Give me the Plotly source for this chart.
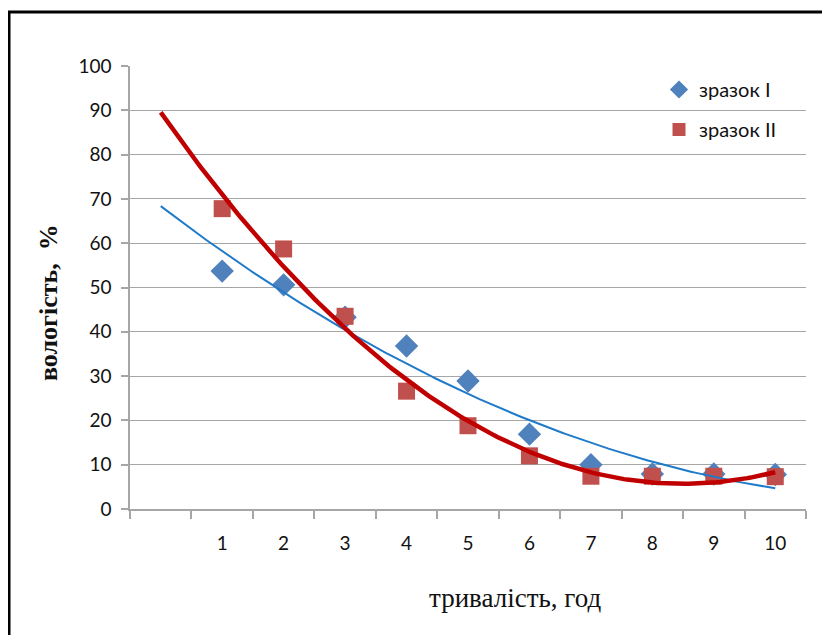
import numpy as np
import plotly.graph_objects as go

hours = [1, 2, 3, 4, 5, 6, 7, 8, 9, 10]
tick_labels = ["1", "2", "3", "4", "5", "6", "7", "8", "9", "10"]
sample1 = [53.7, 50.6, 43.3, 36.8, 28.9, 16.9, 10.0, 7.9, 7.9, 7.8]
sample2 = [67.8, 58.7, 43.5, 26.6, 18.8, 12.0, 7.4, 7.4, 7.4, 7.3]
name1 = "зразок I"
name2 = "зразок II"
x_title = "тривалість, год"
y_title = "<b>вологість,  %</b>"

# quadratic trendlines fitted to the data (as Excel polynomial trendline)
xt = np.linspace(0, 10, 200)
c1 = np.polyfit(hours, sample1, 2)
c2 = np.polyfit(hours, sample2, 2)
t1 = np.polyval(c1, xt)
t2 = np.polyval(c2, xt)

fig = go.Figure()
fig.add_trace(go.Scatter(x=hours, y=sample1, mode="markers", showlegend=False,
                         marker=dict(symbol="diamond", size=18, color="#4F81BD")))
fig.add_trace(go.Scatter(x=hours, y=sample2, mode="markers", showlegend=False,
                         marker=dict(symbol="square", size=17, color="#C0504D")))
fig.add_trace(go.Scatter(x=xt, y=t1, mode="lines", line=dict(color="#1F7BC9", width=2),
                         showlegend=False, hoverinfo="skip"))
fig.add_trace(go.Scatter(x=xt, y=t2, mode="lines", line=dict(color="#C00000", width=4.5),
                         showlegend=False, hoverinfo="skip"))
# legend entries (smaller symbols, as in the reference legend)
fig.add_trace(go.Scatter(x=[None], y=[None], mode="markers", name=name1, legendgroup="a", legendrank=1,
                         marker=dict(symbol="diamond", size=14, color="#4F81BD")))
fig.add_trace(go.Scatter(x=[None], y=[None], mode="markers", name=name2, legendgroup="b", legendrank=2,
                         marker=dict(symbol="square", size=13, color="#C0504D")))

L, T, R, B = 122, 58, 32, 134
PW, PH = 830 - L - R, 635 - T - B

fig.update_layout(
    width=830, height=635,
    margin=dict(l=L, r=R, t=T, b=B),
    paper_bgcolor="white", plot_bgcolor="white",
    font=dict(family="Lato", size=19, color="#111"),
    legend=dict(x=(659 - 130) / PW, y=1 - (70 - 66) / PH, xanchor="left", yanchor="top",
                traceorder="grouped", tracegroupgap=11, itemwidth=30,
                font=dict(family="Lato", size=20), bgcolor="rgba(0,0,0,0)"),
    xaxis=dict(range=[-0.5, 10.5], tickmode="array", tickvals=hours, ticktext=tick_labels,
               ticks="", showgrid=False, zeroline=False, showline=True, linecolor="#A6A6A6",
               linewidth=1.5, ticklabelstandoff=16, automargin=False,
               minor=dict(tick0=-0.5, dtick=1, ticks="outside", ticklen=8, tickcolor="#A6A6A6",
                          tickwidth=1.5, showgrid=False)),
    yaxis=dict(range=[0, 100], dtick=10, ticks="outside", ticklen=7, tickcolor="#A6A6A6", tickwidth=1.5,
               showgrid=True, gridcolor="#A6A6A6", gridwidth=1.2, zeroline=False, automargin=False,
               showline=True, linecolor="#A6A6A6", linewidth=1.5, ticklabelstandoff=6),
)

# axis titles positioned as in the reference
fig.add_annotation(text=x_title, xref="paper", yref="paper", showarrow=False,
                   x=(515 - 130) / PW, y=-(598 - 509) / PH, xanchor="center", yanchor="middle",
                   font=dict(family="Liberation Serif", size=27, color="#111"))
fig.add_annotation(text=y_title, xref="paper", yref="paper", showarrow=False, textangle=-90,
                   x=-(130 - 48) / PW, y=(509 - 303) / PH, xanchor="center", yanchor="middle",
                   font=dict(family="Liberation Serif", size=26, color="#111"))

# outer chart frame
fig.add_shape(type="rect", xref="paper", yref="paper",
              x0=-L / PW + 1 / PW, x1=(845 - L) / PW, y0=-(B + 20) / PH, y1=(PH + T - 4) / PH,
              line=dict(color="black", width=3), fillcolor="rgba(0,0,0,0)", layer="below")

fig.write_html("out.html")
